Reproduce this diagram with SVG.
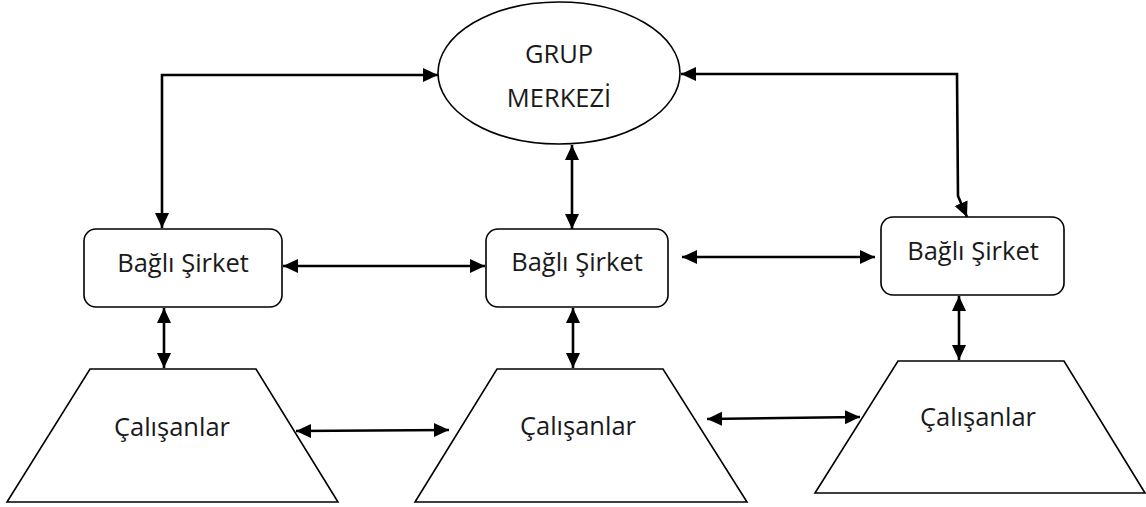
<svg xmlns="http://www.w3.org/2000/svg" width="1146" height="507" viewBox="0 0 1146 507">
  <style>
    .shape { fill: #ffffff; stroke: #000000; stroke-width: 1.6; }
    .label { font-family: "Open Sans", "Liberation Sans", sans-serif; font-size: 25.5px; fill: #1a1a1a; text-anchor: middle; }
    .link { fill: none; stroke: #000000; stroke-width: 2.6; marker-start: url(#head); marker-end: url(#head); }
  </style>
  <defs>
    <marker id="head" markerUnits="userSpaceOnUse" markerWidth="16" markerHeight="15" refX="15" refY="7" orient="auto-start-reverse" viewBox="0 0 16 14">
      <path d="M0,0 L15,7 L0,14 z" fill="#000000"/>
    </marker>
  </defs>

  <rect width="1146" height="507" fill="#ffffff"/>

  <!-- connectors -->
  <g id="connectors">
    <polyline class="link" points="162,228 162,75 438,75"/>
    <line class="link" x1="572" y1="145" x2="572" y2="229"/>
    <polyline class="link" points="681,74 957,74 958,196 967,217"/>
    <line class="link" x1="283" y1="266" x2="485" y2="266"/>
    <line class="link" x1="682" y1="257" x2="875" y2="257"/>
    <line class="link" x1="164" y1="308" x2="164" y2="368"/>
    <line class="link" x1="573" y1="308" x2="573" y2="368"/>
    <line class="link" x1="959" y1="296" x2="959" y2="360"/>
    <line class="link" x1="296" y1="431" x2="449" y2="430"/>
    <line class="link" x1="707" y1="419" x2="860" y2="417"/>
  </g>

  <!-- group headquarters -->
  <g id="grup-merkezi">
    <ellipse class="shape" cx="559" cy="73" rx="121" ry="71"/>
    <text class="label" x="559" y="63">GRUP</text>
    <text class="label" x="559" y="107">MERKEZİ</text>
  </g>

  <!-- subsidiaries -->
  <g id="sirket-sol">
    <rect class="shape" x="84" y="229" width="198" height="78" rx="12" ry="12"/>
    <text class="label" x="183" y="272">Bağlı Şirket</text>
  </g>
  <g id="sirket-orta">
    <rect class="shape" x="486" y="229" width="182" height="78" rx="12" ry="12"/>
    <text class="label" x="577" y="271">Bağlı Şirket</text>
  </g>
  <g id="sirket-sag">
    <rect class="shape" x="881" y="217" width="183" height="78" rx="12" ry="12"/>
    <text class="label" x="973" y="260">Bağlı Şirket</text>
  </g>

  <!-- employees -->
  <g id="calisanlar-sol">
    <polygon class="shape" points="90,369 256,369 338,502 7,502"/>
    <text class="label" x="172" y="436">Çalışanlar</text>
  </g>
  <g id="calisanlar-orta">
    <polygon class="shape" points="497,369 663,369 747,502 415,502"/>
    <text class="label" x="578" y="435">Çalışanlar</text>
  </g>
  <g id="calisanlar-sag">
    <polygon class="shape" points="898,361 1064,361 1145,493 815,493"/>
    <text class="label" x="978" y="426">Çalışanlar</text>
  </g>
</svg>
